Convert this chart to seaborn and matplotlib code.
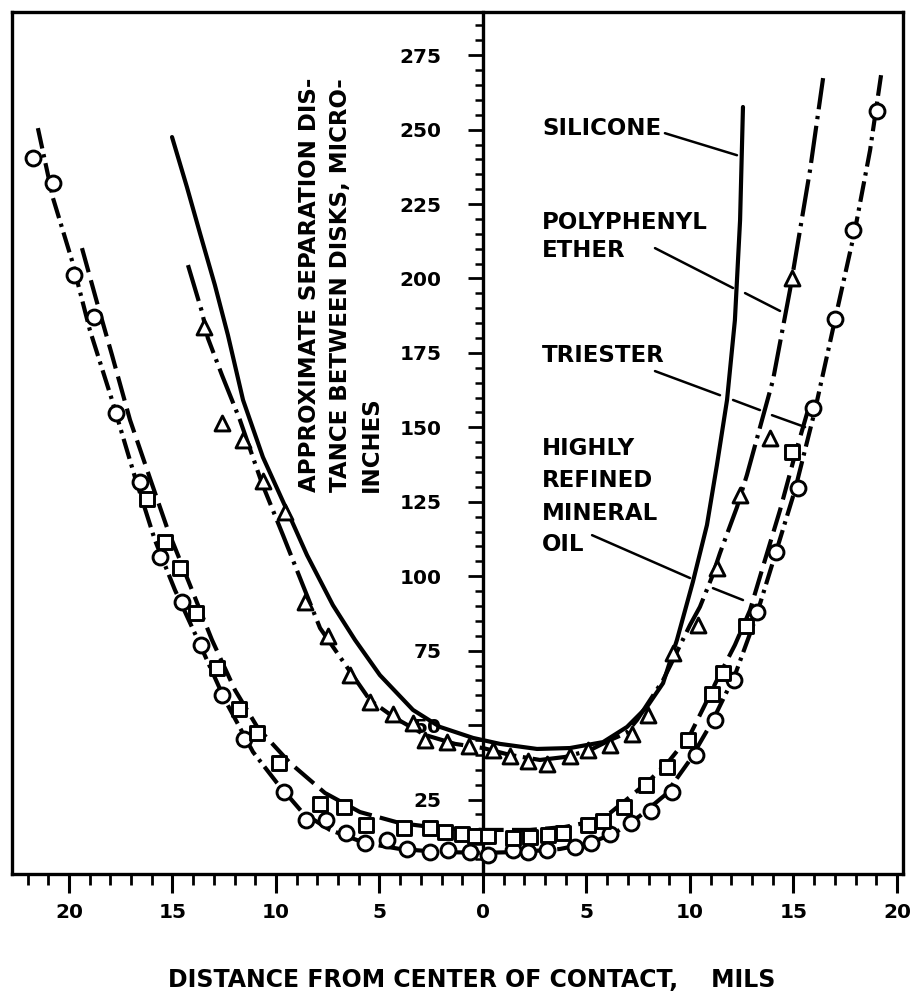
import matplotlib
matplotlib.use("Agg")
import matplotlib.pyplot as plt
import seaborn as sns
from matplotlib.ticker import MultipleLocator, FuncFormatter

# ---------------- data ----------------
# measured points: distance from centre (mils, negative = left side), separation (micro-inches)
oil_x = [-21.74, -20.76, -19.76, -18.78, -17.73, -16.57, -15.60, -14.56, -13.62, -12.62,
         -11.53, -9.63, -8.55, -7.58, -6.62, -5.70, -4.65, -3.69, -2.56, -1.68, -0.63,
         0.26, 1.46, 2.19, 3.08, 4.44, 5.20, 6.14, 7.13, 8.12, 9.12, 10.29, 11.21, 12.14,
         13.22, 14.15, 15.23, 15.96, 17.00, 17.89, 19.02]
oil_y = [240.4, 232.1, 201.1, 187.1, 154.8, 131.6, 106.4, 91.4, 76.9, 60.1,
         45.2, 27.6, 18.1, 18.1, 13.9, 10.3, 11.4, 8.4, 7.5, 8.1, 7.5,
         6.4, 8.1, 7.5, 8.1, 9.2, 10.3, 13.4, 17.0, 21.3, 27.6, 40.0, 51.7, 65.1,
         88.1, 108.2, 129.5, 156.4, 186.3, 216.3, 256.2]

tri_x = [-16.25, -15.35, -14.64, -13.86, -12.85, -11.79, -10.93, -9.86, -7.87, -6.71,
         -5.65, -3.82, -2.54, -1.85, -1.03, -0.39, 0.24, 1.46, 2.27, 3.13, 3.88, 5.09,
         5.78, 6.81, 7.87, 8.87, 9.92, 11.08, 11.61, 12.71, 14.95]
tri_y = [125.8, 111.6, 102.7, 87.5, 69.3, 55.4, 47.2, 37.2, 23.5, 22.5,
         16.5, 15.4, 15.4, 14.2, 13.4, 12.9, 12.6, 12.2, 12.5, 13.1, 13.7, 16.5,
         17.9, 22.6, 29.9, 35.8, 45.0, 60.4, 67.4, 83.3, 141.8]

ppe_x = [-13.48, -12.62, -11.61, -10.64, -9.57, -8.60, -7.47, -6.43, -5.46, -4.35,
         -3.38, -2.80, -1.75, -0.66, 0.50, 1.30, 2.19, 3.11, 4.20, 5.09, 6.14, 7.18,
         7.99, 9.19, 10.40, 11.29, 12.42, 13.86, 14.91]
ppe_y = [183.8, 151.5, 145.7, 132.1, 121.7, 91.4, 79.9, 66.7, 57.8, 53.7,
         50.6, 45.0, 44.2, 43.0, 41.6, 39.6, 37.9, 36.9, 39.6, 41.6, 43.3, 47.0,
         53.4, 74.1, 83.6, 102.9, 127.3, 146.3, 200.0]

# faired curves
sil_cx = [-15.02, -14.30, -13.67, -12.95, -12.32, -11.59, -10.63, -9.47, -8.50, -7.25,
          -6.18, -4.98, -3.38, -2.08, -0.48, 0.82, 2.61, 4.20, 5.80, 6.96, 7.92,
          8.70, 9.37, 10.14, 10.82, 11.30, 11.79, 12.17, 12.42, 12.56]
sil_cy = [247.5, 230.7, 215.2, 197.8, 181.0, 159.2, 140.0, 122.2, 107.1, 90.3,
          78.6, 66.8, 55.1, 49.4, 45.7, 43.7, 42.0, 42.3, 44.3, 49.4, 56.1,
          64.1, 78.6, 98.1, 117.2, 137.3, 159.2, 186.0, 219.6, 257.6]

ppe_cx = [-14.25, -13.57, -13.29, -12.61, -11.74, -10.68, -9.66, -8.70, -7.87, -6.57,
          -5.46, -4.25, -2.80, -1.35, 0.00, 1.30, 2.75, 3.96, 5.17, 6.14, 6.91, 7.44,
          8.07, 8.70, 9.18, 10.00, 10.48, 11.06, 11.45, 12.27, 12.75, 14.01, 14.83,
          15.80, 16.43]
ppe_cy = [204.5, 188.7, 180.0, 167.6, 152.5, 131.3, 113.8, 97.0, 82.6, 69.5,
          58.4, 52.4, 46.7, 43.7, 42.3, 40.0, 38.3, 39.3, 41.6, 45.0, 47.3, 51.7,
          58.4, 65.1, 71.9, 83.6, 89.7, 99.7, 107.8, 123.2, 134.0, 165.9, 196.1,
          236.4, 267.3]

tri_cx = [-19.37, -18.65, -17.92, -17.05, -16.09, -15.22, -14.15, -13.09, -11.98, -10.87,
          -9.32, -7.63, -5.94, -4.01, -2.08, 0.00, 2.27, 3.96, 5.17, 6.14, 7.10, 8.07,
          9.03, 10.00, 10.72, 11.35, 12.17, 12.90, 13.62, 14.35, 15.07, 15.70]
tri_cy = [210.2, 192.1, 174.3, 152.5, 133.0, 115.5, 97.0, 78.6, 61.8, 49.0,
          37.3, 27.2, 20.8, 17.1, 15.4, 14.8, 14.8, 15.8, 17.5, 20.5, 25.9, 31.6,
          38.3, 46.7, 56.8, 65.8, 76.9, 88.6, 105.4, 122.2, 140.7, 155.8]

oil_cx = [-21.50, -20.77, -19.86, -18.99, -17.92, -16.81, -15.85, -14.88, -13.77, -12.46,
          -11.11, -9.95, -8.70, -7.39, -5.70, -4.01, -2.08, 0.00, 1.79, 3.72, 5.17, 6.38,
          7.58, 8.79, 10.00, 11.06, 12.17, 13.14, 14.11, 15.07, 16.04, 17.00, 17.97,
          18.70, 19.23]
oil_cy = [250.5, 227.0, 206.2, 182.7, 159.2, 133.3, 112.2, 95.4, 78.6, 58.4,
          41.0, 30.6, 20.5, 14.8, 10.4, 8.4, 7.4, 7.1, 7.4, 8.4, 10.4, 13.8,
          19.5, 26.5, 38.3, 51.0, 66.8, 85.3, 107.1, 128.9, 155.8, 186.0, 216.3,
          243.1, 268.3]

x_ticks = [-20, -15, -10, -5, 0, 5, 10, 15, 20]
y_ticks = [25, 50, 75, 100, 125, 150, 175, 200, 225, 250, 275]

# ---------------- style ----------------
sns.set_style("white")
plt.rcParams["font.family"] = ["DejaVu Sans"]
plt.rcParams["font.weight"] = "bold"
for k in ["text.color", "axes.labelcolor", "xtick.color", "ytick.color",
          "axes.edgecolor"]:
    plt.rcParams[k] = "black"

W, H = 914, 994
fig = plt.figure(figsize=(W / 100, H / 100), dpi=100)
ax = fig.add_axes([12 / W, 1 - 874 / H, 891 / W, 862 / H])

# curves
sns.lineplot(x=sil_cx, y=sil_cy, ax=ax, color="black", lw=3.0, sort=False,
             estimator=None, solid_capstyle="round", zorder=3)
sns.lineplot(x=ppe_cx, y=ppe_cy, ax=ax, color="black", lw=3.0, sort=False,
             estimator=None, linestyle=(0, (9, 1.6, 0.8, 1.6)), zorder=3)
sns.lineplot(x=tri_cx, y=tri_cy, ax=ax, color="black", lw=3.0, sort=False,
             estimator=None, linestyle=(0, (6, 2)), zorder=3)
sns.lineplot(x=oil_cx, y=oil_cy, ax=ax, color="black", lw=3.0, sort=False,
             estimator=None, linestyle=(0, (5, 1.4, 0.8, 1.4)), zorder=3)

# measured points
sns.scatterplot(x=oil_x, y=oil_y, ax=ax, marker="o", s=115, color="white",
                edgecolor="black", linewidth=2.1, zorder=5)
sns.scatterplot(x=tri_x, y=tri_y, ax=ax, marker="s", s=115, color="white",
                edgecolor="black", linewidth=2.1, zorder=5)
sns.scatterplot(x=ppe_x, y=ppe_y, ax=ax, marker="^", s=115, color="white",
                edgecolor="black", linewidth=2.1, zorder=5)

ax.set_xlim(-22.75, 20.29)
ax.set_ylim(0, 289.5)

# frame and central y-axis
for side in ["top", "right", "bottom"]:
    ax.spines[side].set_linewidth(2.4)
    ax.spines[side].set_color("black")
ax.spines["left"].set_position(("data", 0))
ax.spines["left"].set_linewidth(2.4)
ax.spines["left"].set_color("black")
ax.plot([0, 0], [0, 1], transform=ax.transAxes, color="black", lw=2.4,
        clip_on=False, solid_capstyle="projecting")

ax.set_xticks(x_ticks)
ax.xaxis.set_minor_locator(MultipleLocator(1))
ax.xaxis.set_major_formatter(FuncFormatter(lambda v, p: f"{abs(int(round(v)))}"))
ax.set_yticks(y_ticks)
ax.yaxis.set_minor_locator(MultipleLocator(5))
ax.tick_params(axis="x", which="major", direction="out", length=14, width=2.2,
               pad=7, labelsize=14.5, color="black", labelcolor="black", bottom=True)
ax.tick_params(axis="x", which="minor", direction="out", length=8, width=2.0,
               color="black", bottom=True)
ax.tick_params(axis="y", which="major", direction="out", length=11, width=2.0,
               pad=19, labelsize=14.5, color="black", labelcolor="black", left=True)
ax.tick_params(axis="y", which="minor", direction="out", length=6, width=1.8,
               color="black", left=True)
for lbl in ax.get_xticklabels() + ax.get_yticklabels():
    lbl.set_fontweight("bold")
ax.set_xlabel("")
ax.set_ylabel("")

# axis titles
fig.text(472 / W, 1 - 980 / H, "DISTANCE FROM CENTER OF CONTACT,    MILS",
         ha="center", va="center", fontsize=17, fontweight="bold", color="black")
fig.text(298 / W, 1 - 492 / H,
         "APPROXIMATE SEPARATION DIS-\nTANCE BETWEEN DISKS, MICRO-\nINCHES",
         rotation=90, ha="left", va="bottom", multialignment="left",
         fontsize=16.5, fontweight="bold", linespacing=1.45, color="black")

# curve labels
lab_fs = 16.5
for yv, txt in [(250.5, "SILICONE"), (218.9, "POLYPHENYL"), (209.5, "ETHER"),
                (174.3, "TRIESTER"), (143.0, "HIGHLY"), (132.3, "REFINED"),
                (121.2, "MINERAL"), (110.5, "OIL")]:
    ax.text(2.85, yv, txt, fontsize=lab_fs, fontweight="bold", va="center",
            color="black")

leaders = [
    ((8.79, 248.8), (12.27, 241.4)),
    ((8.31, 210.2), (12.08, 196.8)),
    ((12.66, 195.1), (14.35, 189.1)),
    ((8.31, 168.9), (11.45, 160.8)),
    ((12.08, 159.2), (13.38, 155.8)),
    ((13.96, 154.1), (15.56, 150.1)),
    ((5.27, 113.8), (10.00, 99.4)),
    ((11.11, 96.0), (12.56, 92.0)),
]
for a, b in leaders:
    ax.annotate("", xy=b, xytext=a,
                arrowprops=dict(arrowstyle="-", color="black", lw=1.8,
                                shrinkA=0, shrinkB=0))

fig.savefig("out.png", dpi=100, facecolor="white")
